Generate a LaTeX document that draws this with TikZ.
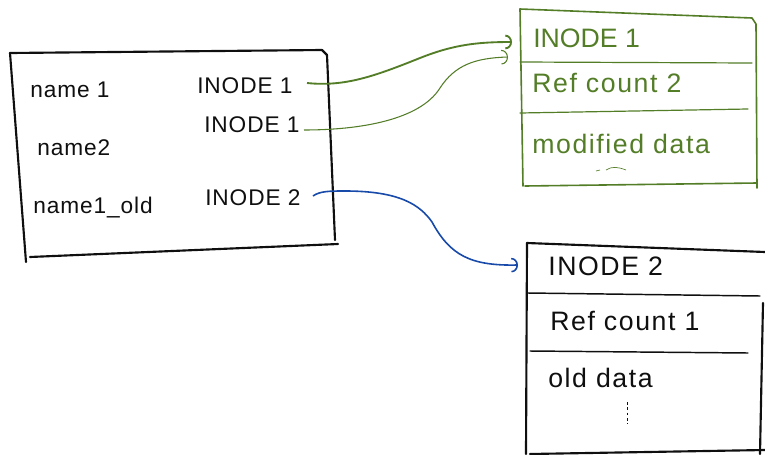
\documentclass[tikz,border=0pt]{standalone}
\usepackage{fontspec}
\setmainfont{Liberation Sans}
\usetikzlibrary{arrows.meta}
\definecolor{ink}{RGB}{15,15,15}
\definecolor{greenink}{RGB}{84,125,40}
\definecolor{blueink}{RGB}{24,74,170}
\begin{document}
\begin{tikzpicture}[x=0.75pt,y=-0.75pt,
  blackedge/.style={draw=ink, line width=1.6pt, line cap=round, line join=round},
  blackdiv/.style={draw=ink, line width=1.1pt, line cap=round},
  greenedge/.style={draw=greenink, line width=1.2pt, line cap=round, line join=round},
  greendiv/.style={draw=greenink, line width=0.9pt, line cap=round},
  lefttext/.style={anchor=base west, inner sep=0pt, text=ink, font=\fontsize{17}{20}\selectfont\addfontfeatures{LetterSpace=4}},
  greentext/.style={anchor=base west, inner sep=0pt, text=greenink, font=\fontsize{20}{24}\selectfont},
  righttext/.style={anchor=base west, inner sep=0pt, text=ink, font=\fontsize{20}{24}\selectfont},
  widetext/.style={font=\fontsize{20}{24}\selectfont\addfontfeatures{LetterSpace=6}},
  tipstyle/.style={-{Arc Barb[length=5pt,width=11pt]}},
]
\useasboundingbox (0,0) rectangle (765,454);

% ---------- left directory box ----------
\draw[blackedge] (10,53) -- (322,50) -- (327,55) -- (335,240);
\draw[blackedge] (10,53) -- (26,262);
\draw[blackedge] (30,257) -- (338,244);

\node[lefttext] (n1) at (30,97) {name 1};
\node[lefttext] (n2) at (37,155) {name2};
\node[lefttext] (n3) at (33,213) {name1\_old};
\node[lefttext] (i1) at (197,93) {INODE 1};
\node[lefttext] (i2) at (204,132) {INODE 1};
\node[lefttext] (i3) at (205,205) {INODE 2};

% ---------- green inode box ----------
\draw[greenedge] (520,9) -- (752,18) -- (756,24) -- (757,188);
\draw[greenedge] (520,9) -- (523,186);
\draw[greenedge] (525,186) -- (757,183);
\draw[greendiv] (520,62) -- (752,63);
\draw[greendiv] (520,113) -- (748,109);
\node[greentext] (gi) at (533,47) {INODE 1};
\node[greentext, widetext] (gr) at (532,92) {Ref count 2};
\node[greentext, widetext] (gd) at (532,153) {modified data};
\draw[greenink, line width=0.5pt] (596,171) -- (600,170);
\draw[greenink, line width=0.5pt] (606,170) .. controls (612,166) and (618,167) .. (626,170);

% ---------- black inode box ----------
\draw[blackedge] (527,243) -- (765,252);
\draw[blackedge] (527,243) -- (526,454);
\draw[blackedge] (763,303) -- (760,454);
\draw[blackedge] (530,454) -- (765,450);
\draw[blackdiv] (528,293) -- (760,296);
\draw[blackdiv] (530,351) -- (748,353);
\node[righttext, widetext] (bi) at (548,275) {INODE 2};
\node[righttext, widetext] (br) at (550,330) {Ref count 1};
\node[righttext, widetext] (bd) at (548,387) {old data};
\draw[ink, line width=0.6pt, dash pattern=on 2pt off 2pt] (627,402) -- (627,424);

% ---------- connectors ----------
\coordinate (s1) at (307,83);
\coordinate (e1) at (512,42);
\coordinate (s2) at (304,130);
\coordinate (e2) at (508,57);
\coordinate (s3) at (313,196);
\coordinate (e3) at (518,265);

\draw[greenink, line width=1.4pt, tipstyle] (s1)
  .. controls (345,87) and (375,76) .. (420,58)
  .. controls (455,44) and (480,42) .. (e1);
\draw[greenink, line width=0.8pt, tipstyle] (s2)
  .. controls (360,130) and (420,120) .. (440,88)
  .. controls (455,65) and (475,58) .. (e2);
\draw[blueink, line width=1.2pt, tipstyle] (s3)
  .. controls (320,191) and (330,191) .. (345,191)
  .. controls (400,191) and (420,205) .. (432,222)
  .. controls (450,255) and (470,266) .. (e3);
\end{tikzpicture}
\end{document}
